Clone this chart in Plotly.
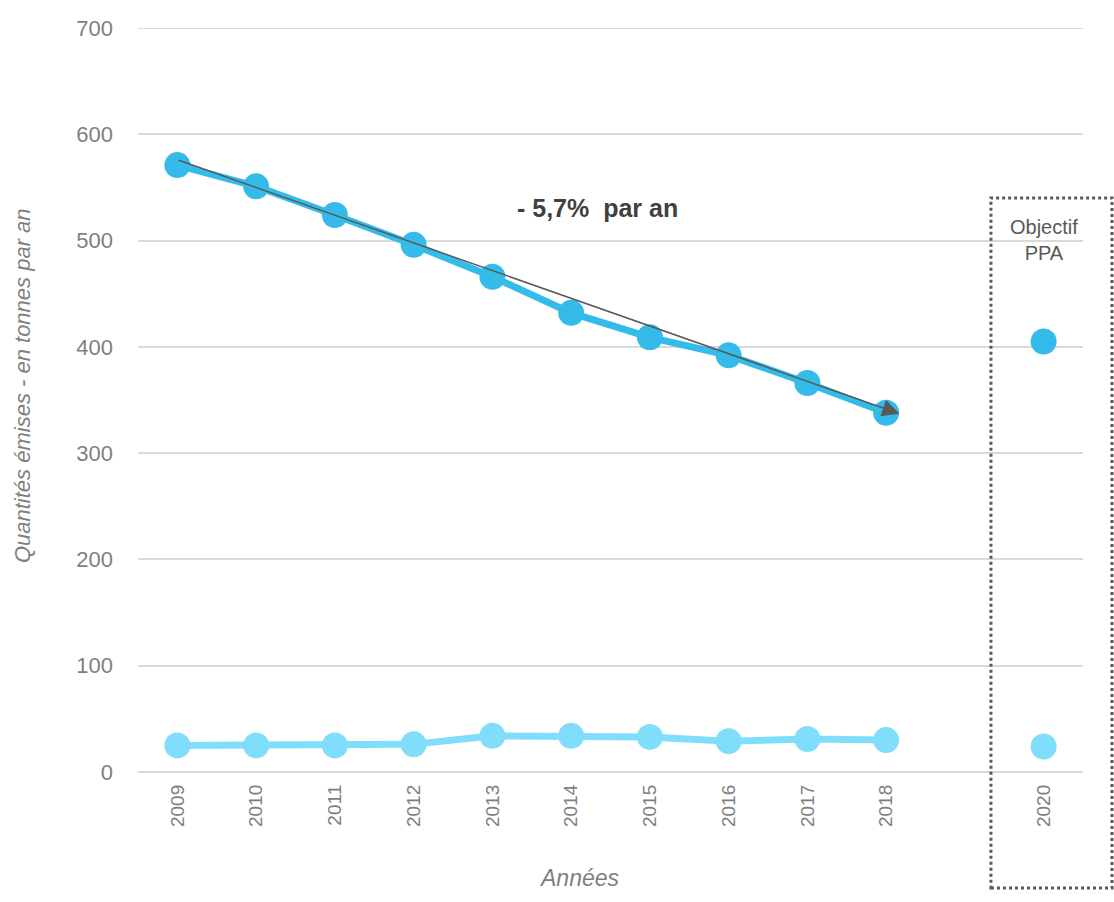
import plotly.graph_objects as go

years = [2009, 2010, 2011, 2012, 2013, 2014, 2015, 2016, 2017, 2018]
serie_fonce = [571, 551, 524, 496, 466, 432, 409, 392, 366, 338]
serie_clair = [25, 25, 25, 26, 34, 34, 33, 29, 31, 30]
annee_objectif = [2020]
objectif_fonce = [405]
objectif_clair = [24]
tick_years = [2009, 2010, 2011, 2012, 2013, 2014, 2015, 2016, 2017, 2018, 2020]
y_ticks = [0, 100, 200, 300, 400, 500, 600, 700]

DARK = "#35BBE9"
LIGHT = "#80DDFB"
FONT = "Liberation Sans Narrow, Arial Narrow, Liberation Sans, Arial, sans-serif"
GRAY = "#7F7F7F"

fig = go.Figure()
fig.add_trace(go.Scatter(x=years, y=serie_clair, mode="lines+markers",
                         line=dict(color=LIGHT, width=7),
                         marker=dict(color=LIGHT, size=26), showlegend=False))
fig.add_trace(go.Scatter(x=years, y=serie_fonce, mode="lines+markers",
                         line=dict(color=DARK, width=7),
                         marker=dict(color=DARK, size=26), showlegend=False))
fig.add_trace(go.Scatter(x=annee_objectif, y=objectif_fonce, mode="markers",
                         marker=dict(color=DARK, size=26), showlegend=False))
fig.add_trace(go.Scatter(x=annee_objectif, y=objectif_clair, mode="markers",
                         marker=dict(color=LIGHT, size=26), showlegend=False))

# Top gridline at 700 (edge of range)
fig.add_shape(type="line", xref="paper", yref="y", x0=0, x1=1, y0=700, y1=700,
              line=dict(color="#D9D9D9", width=2), layer="below")

# Trend arrow
fig.add_annotation(x=2018.17, y=337, ax=2009, ay=576, xref="x", yref="y",
                   axref="x", ayref="y", showarrow=True, arrowhead=2,
                   arrowsize=2.3, arrowwidth=1.5, arrowcolor="#595959",
                   standoff=0, text="")
fig.add_annotation(x=2014.34, y=531, xref="x", yref="y", showarrow=False,
                   xanchor="center", yanchor="middle",
                   text="<b>- 5,7%  par an</b>",
                   font=dict(family=FONT, size=25, color="#404040"))
fig.add_annotation(x=2020, y=0.715, xref="x", yref="paper", showarrow=False,
                   xanchor="center", yanchor="middle",
                   text="Objectif<br>PPA",
                   font=dict(family=FONT, size=20, color="#595959"))
# Axis titles
fig.add_annotation(x=-0.1228, y=0.52, xref="paper", yref="paper", showarrow=False,
                   xanchor="center", yanchor="middle",
                   text="<i>Quantités émises - en tonnes par an</i>", textangle=-90,
                   font=dict(family=FONT, size=22, color=GRAY))
fig.add_annotation(x=0.4677, y=-0.1425, xref="paper", yref="paper", showarrow=False,
                   xanchor="center", yanchor="middle",
                   text="<i>Années</i>",
                   font=dict(family=FONT, size=23, color=GRAY))

# Dotted box around objective
fig.add_shape(type="rect", xref="paper", yref="paper",
              x0=0.9026, x1=1.0307, y0=-0.156, y1=0.7715,
              line=dict(color="#595959", width=3, dash="dot"))

fig.update_layout(
    width=1114, height=902,
    margin=dict(l=138, r=31, t=28, b=130),
    plot_bgcolor="white", paper_bgcolor="white",
    font=dict(family=FONT, color=GRAY),
)
fig.update_xaxes(range=[2008.5, 2020.5], tickvals=tick_years,
                 ticktext=[str(v) for v in tick_years], tickangle=-90,
                 showgrid=False, zeroline=False, showline=False,
                 tickfont=dict(family=FONT, size=19, color=GRAY), ticks="",
                 ticklabelstandoff=8)
fig.update_yaxes(range=[0, 700], tickvals=y_ticks, showgrid=True,
                 gridcolor="#D9D9D9", gridwidth=2, zeroline=True,
                 zerolinecolor="#D9D9D9", zerolinewidth=2, showline=False,
                 tickfont=dict(family=FONT, size=22, color=GRAY), ticks="",
                 ticklabelstandoff=24)

fig.write_html("out.html")
